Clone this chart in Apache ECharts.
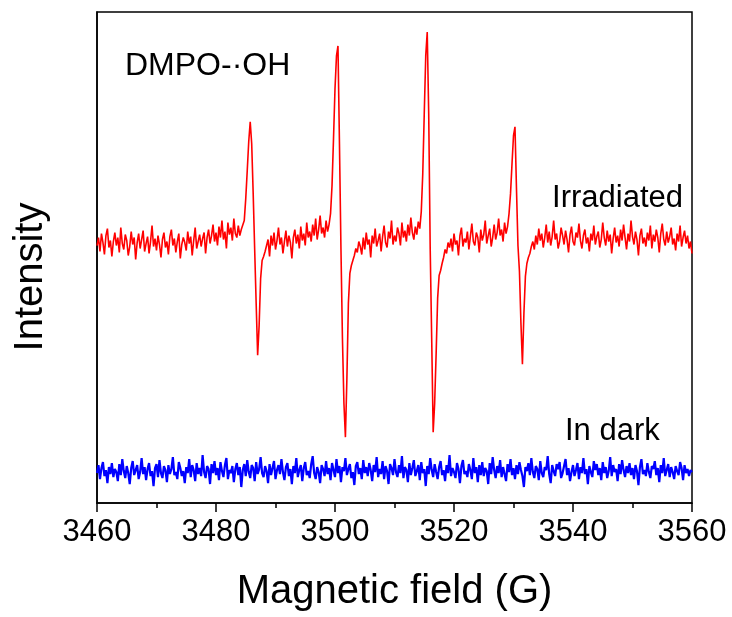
<!DOCTYPE html>
<html>
<head>
<meta charset="utf-8">
<script src="https://cdn.jsdelivr.net/npm/echarts@6/dist/echarts.min.js"></script>
<style>html,body{margin:0;padding:0;background:#fff;}#chart{width:732px;height:617px;}</style>
</head>
<body>
<div id="chart"></div>
<script>
// Magnetic field sampling (G): 3460 .. 3560 in 0.25 G steps
const FIELD_START = 3460;
const FIELD_STEP = 0.25;
const X_TICKS = [3460, 3480, 3500, 3520, 3540, 3560];

// Irradiated spectrum (a.u.)
const irradiated = [
258,266,252,270,261,249,268,275,256,263,
247,262,271,258,266,251,276,260,254,269,
263,248,257,272,259,266,244,261,270,255,
264,273,252,260,267,250,262,278,257,265,
253,268,259,246,264,271,256,262,249,267,
274,258,265,251,262,270,245,259,266,261,
253,272,260,267,248,263,276,255,262,269,
257,265,271,250,266,274,260,268,279,262,
271,258,277,266,283,264,272,255,281,269,
276,263,285,270,266,278,268,274,
272,283,305,333,362,382,360,310,254,200,148,178,225,243,247,252,
252,264,247,268,258,271,254,263,276,259,
266,250,262,273,257,268,261,245,266,274,
260,269,255,277,263,270,258,281,266,272,
262,279,268,285,264,274,288,270,276,266,
283,272,279,
290,318,365,415,448,458,360,255,165,100,66,125,200,230,238,243,
248,255,251,262,257,249,266,254,271,259,
264,246,268,260,275,257,263,270,252,267,
278,261,256,272,265,283,259,268,262,276,
270,258,281,266,273,262,279,268,286,271,
264,277,269,282,275,
292,330,390,448,472,390,255,165,71,100,150,205,228,233,240,
246,254,250,261,256,265,252,270,259,263,
248,268,276,257,265,261,272,254,267,280,
262,258,271,266,251,274,263,269,283,260,
268,275,257,266,279,264,271,285,268,274,
262,281,270,277,
290,310,340,368,377,315,258,232,180,139,190,227,240,246,
250,257,262,254,268,259,275,263,270,256,
266,279,261,272,258,267,283,264,270,255,
262,276,268,259,273,264,251,269,277,262,
258,271,266,280,263,255,268,274,260,266,
252,270,263,278,259,267,272,256,264,281,
266,258,273,262,269,250,265,276,261,268,
257,274,263,279,266,254,270,262,283,267,
259,272,264,248,268,275,260,266,257,271,
263,278,255,269,262,274,266,251,270,280,
264,258,272,261,267,276,259,265,253,270,
262,278,257,266,273,260,268,255,262,250
];

// In dark spectrum (a.u.)
const inDark = [
30,38,24,35,41,27,33,20,36,29,
40,26,34,31,22,39,28,44,32,25,
37,30,19,35,42,28,33,38,24,31,
45,29,36,23,34,40,27,32,17,35,
39,26,43,30,25,37,33,21,38,29,
34,46,28,31,24,41,35,27,32,20,
36,30,44,26,38,33,22,40,29,35,
27,48,31,25,37,34,19,39,30,42,
28,35,23,41,32,26,38,45,24,33,
30,37,21,34,40,28,36,16,33,39,
27,43,31,25,38,35,22,41,29,34,
46,30,26,37,32,20,39,28,35,42,
24,33,38,29,44,31,23,36,40,27,
34,19,37,30,45,26,33,38,22,35,
41,28,32,25,39,47,30,24,36,31,
20,38,34,27,42,29,35,23,40,33,
26,44,30,37,21,36,32,45,28,34,
39,25,31,18,37,41,29,35,24,43,
30,36,27,40,33,22,38,31,46,26,
34,29,42,24,37,32,19,39,35,28,
44,31,26,38,30,47,25,36,33,21,
40,28,35,43,27,32,38,23,41,30,
34,17,37,29,45,33,26,39,31,24,
36,42,28,33,22,38,30,48,27,35,
31,25,40,34,20,37,43,29,32,26,
39,33,24,45,30,36,21,38,28,41,
27,35,32,19,40,29,46,33,25,37,
30,43,26,36,34,22,39,31,44,28,
35,24,38,29,41,33,27,16,36,32,
40,28,45,31,25,37,34,23,42,30,
26,36,33,47,29,20,38,32,27,39,
34,41,25,30,37,44,28,35,22,31,
38,27,33,40,24,36,30,45,29,34,
19,37,31,26,42,33,39,28,35,23,
41,30,36,25,32,46,27,38,31,34,
22,39,29,43,33,26,37,30,40,28,
35,24,38,32,18,36,44,29,33,27,
40,31,25,37,34,42,28,35,21,38,
30,45,27,33,39,26,36,31,24,37,
32,28,41,35,23,38,30,34,27,33,
31
];

const SERIES_NAMES = ['Irradiated', 'In dark'];

function pairs(vals) {
  return vals.map((v, i) => [FIELD_START + FIELD_STEP * i, v]);
}

const FONT = '"Liberation Sans", Arial, Helvetica, sans-serif';
const chart = echarts.init(document.getElementById('chart'), null, {renderer: 'canvas'});
chart.setOption({
  animation: false,
  backgroundColor: '#fff',
  grid: {left: 97, right: 40, top: 12, bottom: 113, show: true, borderColor: '#000', borderWidth: 1.5, backgroundColor: 'transparent'},
  xAxis: {
    type: 'value', min: X_TICKS[0], max: X_TICKS[X_TICKS.length - 1], interval: 20,
    axisLine: {show: true, onZero: false, lineStyle: {color: '#000', width: 1.5}},
    axisTick: {show: true, inside: false, length: 9, lineStyle: {color: '#000', width: 1.5}},
    minorTick: {show: true, splitNumber: 2, length: 5, lineStyle: {color: '#000', width: 1.5}},
    splitLine: {show: false},
    axisLabel: {fontFamily: FONT, fontSize: 31, color: '#000', margin: 14,
                formatter: function (v) { return String(v); }},
    name: 'Magnetic field (G)', nameLocation: 'middle', nameGap: 69,
    nameTextStyle: {fontFamily: FONT, fontSize: 40, color: '#000'}
  },
  yAxis: {
    type: 'value', min: 0, max: 492,
    axisLine: {show: true, lineStyle: {color: '#000', width: 1.5}},
    axisTick: {show: false}, axisLabel: {show: false}, splitLine: {show: false}
  },
  series: [
    {name: SERIES_NAMES[0], type: 'line', data: pairs(irradiated), showSymbol: false, symbol: 'none', sampling: 'none',
     lineStyle: {color: '#ff0000', width: 1.6}, z: 3},
    {name: SERIES_NAMES[1], type: 'line', data: pairs(inDark), showSymbol: false, symbol: 'none', sampling: 'none',
     lineStyle: {color: '#0000ff', width: 2.2}, z: 2}
  ],
  graphic: [
    {type: 'text', x: 31, y: 277, rotation: Math.PI / 2,
     style: {text: 'Intensity', font: '40px ' + FONT, fill: '#000', align: 'center', verticalAlign: 'middle'}},
    {type: 'text', x: 125, y: 66,
     style: {text: 'DMPO-\u00B7OH', font: '32px ' + FONT, fill: '#000', align: 'left', verticalAlign: 'middle'}},
    {type: 'text', x: 683, y: 198,
     style: {text: SERIES_NAMES[0], font: '31px ' + FONT, fill: '#000', align: 'right', verticalAlign: 'middle'}},
    {type: 'text', x: 565, y: 431,
     style: {text: SERIES_NAMES[1], font: '31px ' + FONT, fill: '#000', align: 'left', verticalAlign: 'middle'}}
  ]
});
</script>
</body>
</html>
